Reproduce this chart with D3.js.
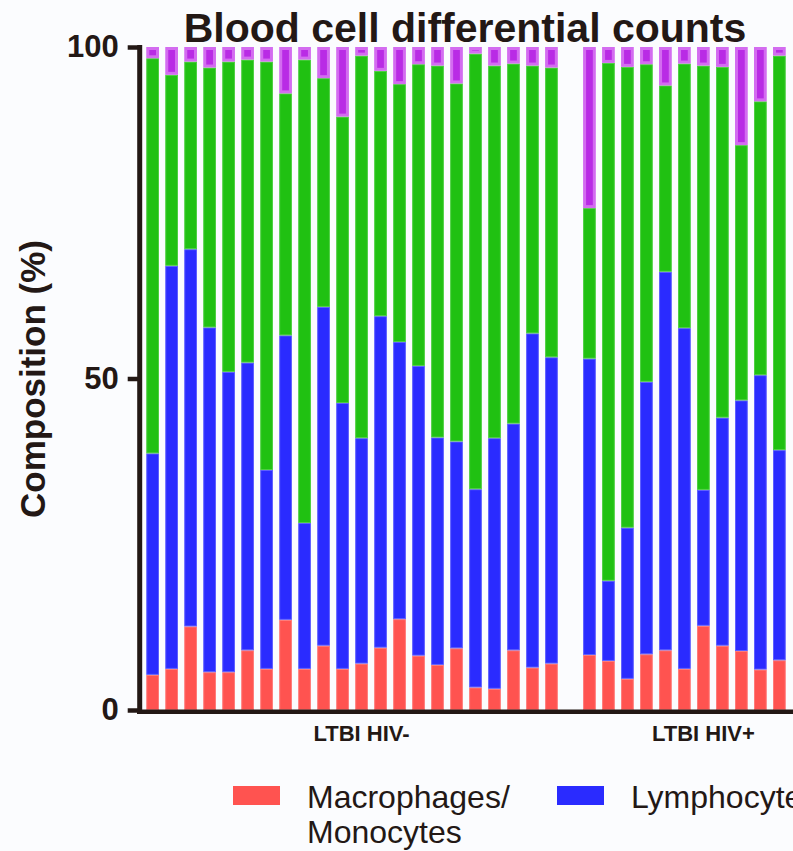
<!DOCTYPE html>
<html>
<head>
<meta charset="utf-8">
<script src="https://cdn.jsdelivr.net/npm/d3@7"></script>
<style>
  body { margin: 0; background: #fbfcfe; }
  svg { display: block; font-family: "Liberation Sans", Arial, Helvetica, sans-serif; }
</style>
</head>
<body>
<div id="chart"></div>
<script>
// Chart size
const width = 793,
      height = 851;

// Groups
const groups = ["LTBI HIV-", "LTBI HIV+"];

// Cell types (stack order from bottom to top)
const cellTypes = ["Macrophages", "Lymphocytes", "Neutrophils", "Eosinophils"];
// Only the first two legend entries fit in the picture
const legendLabels = [["Macrophages/", "Monocytes"], ["Lymphocytes"]];

// Percentages, HIV- group (22 subjects)
const macroHivNeg = [5.3, 6.2, 12.6, 5.7, 5.7, 9.0, 6.2, 13.6, 6.2, 9.7, 6.2, 7.0, 9.4, 13.7, 8.2, 6.8, 9.3, 3.4, 3.2, 9.0, 6.4, 7.0];
const lymphHivNeg = [33.4, 60.8, 56.9, 52.0, 45.3, 43.4, 30.0, 42.9, 22.0, 51.1, 40.1, 34.0, 50.0, 41.8, 43.7, 34.3, 31.2, 29.9, 37.8, 34.2, 50.4, 46.2];
const neutHivNeg  = [59.6, 28.8, 28.3, 39.2, 46.8, 45.7, 61.6, 36.5, 69.9, 34.5, 43.2, 57.7, 37.0, 38.9, 45.5, 56.1, 54.0, 65.7, 56.2, 54.3, 40.4, 43.7];
const eosHivNeg   = [1.7, 4.2, 2.2, 3.1, 2.2, 1.9, 2.2, 7.0, 1.9, 4.7, 10.5, 1.3, 3.6, 5.6, 2.6, 2.8, 5.5, 1.0, 2.8, 2.5, 2.8, 3.1];

// Percentages, HIV+ group (11 subjects)
const macroHivPos = [8.3, 7.4, 4.7, 8.4, 9.0, 6.2, 12.7, 9.7, 8.9, 6.1, 7.5];
const lymphHivPos = [44.7, 12.1, 22.8, 41.1, 57.1, 51.4, 20.5, 34.4, 37.8, 44.4, 31.7];
const neutHivPos  = [22.7, 78.1, 69.5, 47.9, 28.1, 39.9, 64.0, 52.9, 38.5, 41.3, 59.5];
const eosHivPos   = [24.3, 2.4, 3.0, 2.6, 5.8, 2.5, 2.8, 3.0, 14.8, 8.2, 1.3];

const yTicks = [0, 50, 100];

// Colours
const fills   = ["#ff5350", "#2a2bff", "#20c112", "#b92be5"];
const strokes = ["#ff7a78", "#5d5eff", "#4ccf40", "#d36cf0"];
const ink = "#231815";

// Build one row per slot; an empty slot separates the groups
const rows = [];
function addGroup(group, m, l, n, e) {
    m.forEach((v, i) => rows.push({
        slot: rows.length, group: group,
        Macrophages: v, Lymphocytes: l[i], Neutrophils: n[i], Eosinophils: e[i]
    }));
}
addGroup(groups[0], macroHivNeg, lymphHivNeg, neutHivNeg, eosHivNeg);
const gapSlot = rows.length;
rows.push({ slot: gapSlot, group: null, Macrophages: 0, Lymphocytes: 0, Neutrophils: 0, Eosinophils: 0 });
addGroup(groups[1], macroHivPos, lymphHivPos, neutHivPos, eosHivPos);

const series = d3.stack().keys(cellTypes)(rows.filter(r => r.group));

const svg = d3.select("#chart").append("svg")
    .attr("width", width)
    .attr("height", height);

svg.append("rect")
    .attr("width", width)
    .attr("height", height)
    .attr("fill", "#fbfcfe");

// Scales
const x = d3.scaleBand()
    .domain(rows.map(r => r.slot))
    .range([140, 792])
    .paddingInner(0.33)
    .paddingOuter(0.33);

const y = d3.scaleLinear()
    .domain([0, 100])
    .range([710, 47]);

// Stacked bars, each segment drawn with an inset lighter edge
series.forEach((s, k) => {
    const sw = k === 3 ? 3 : 1;
    svg.append("g")
        .selectAll("rect")
        .data(s)
        .enter().append("rect")
        .attr("x", d => x(d.data.slot) + sw / 2)
        .attr("y", d => y(d[1]) + sw / 2)
        .attr("width", x.bandwidth() - sw)
        .attr("height", d => Math.max(0, y(d[0]) - y(d[1]) - sw))
        .style("fill", fills[k])
        .style("stroke", strokes[k])
        .style("stroke-width", sw);
});

// Y axis
const yAxis = svg.append("g")
    .attr("transform", "translate(139.7,0)")
    .call(d3.axisLeft(y).tickValues(yTicks).tickSize(12).tickSizeOuter(0).tickPadding(9));
yAxis.select(".domain").remove();
yAxis.selectAll(".tick line")
    .style("stroke", ink)
    .style("stroke-width", 4.5);
yAxis.selectAll(".tick text")
    .style("fill", ink)
    .style("font-size", "31px")
    .style("font-weight", "bold")
    .style("font-family", "'Liberation Sans', Arial, sans-serif");

svg.append("line")
    .attr("x1", 139.7).attr("x2", 139.7)
    .attr("y1", y(100) - 2).attr("y2", 714)
    .style("stroke", ink)
    .style("stroke-width", 5);

// X axis baseline
svg.append("line")
    .attr("x1", 137).attr("x2", width)
    .attr("y1", 711.8).attr("y2", 711.8)
    .style("stroke", ink)
    .style("stroke-width", 4.6);

// Group labels
const groupLabelSlots = [11, gapSlot + 7];
groups.forEach((g, i) => {
    svg.append("text")
        .attr("x", x(groupLabelSlots[i]) + x.bandwidth() / 2)
        .attr("y", 741)
        .attr("text-anchor", "middle")
        .style("font-size", "22px")
        .style("font-weight", "bold")
        .style("fill", ink)
        .text(g);
});

// Title
svg.append("text")
    .attr("x", 465)
    .attr("y", 42)
    .attr("text-anchor", "middle")
    .style("font-size", "41px")
    .style("font-weight", "bold")
    .style("fill", ink)
    .text("Blood cell differential counts");

// Y axis title
svg.append("text")
    .attr("transform", "translate(45,379) rotate(-90)")
    .attr("text-anchor", "middle")
    .style("font-size", "35px")
    .style("font-weight", "bold")
    .style("fill", ink)
    .text("Composition (%)");

// Legend
const legend = svg.append("g")
    .attr("class", "legend")
    .attr("transform", "translate(233,786)");

legendLabels.forEach((lines, i) => {
    const item = legend.append("g")
        .attr("transform", `translate(${i * 324},0)`);
    item.append("rect")
        .attr("width", 47)
        .attr("height", 19)
        .style("fill", fills[i]);
    const t = item.append("text")
        .attr("x", 74)
        .attr("y", 22)
        .style("font-size", "32px")
        .style("fill", ink);
    lines.forEach((line, j) => {
        t.append("tspan")
            .attr("x", 74)
            .attr("dy", j === 0 ? 0 : 35)
            .text(line);
    });
});
</script>
</body>
</html>
